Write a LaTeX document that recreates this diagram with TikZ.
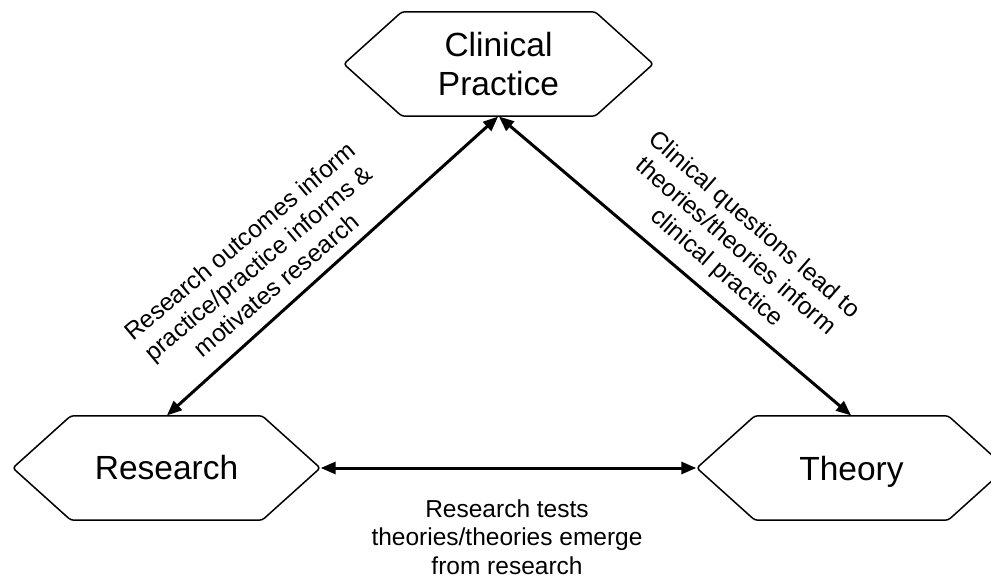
\documentclass[tikz,border=0pt]{standalone}
\usepackage{fontspec}
\setmainfont{Liberation Sans}
\usetikzlibrary{arrows.meta,calc}
\begin{document}
\begin{tikzpicture}[x=1pt,y=1pt,
  hexnode/.style={draw=none, minimum width=#1, minimum height=104pt, inner sep=0pt,
    font=\fontsize{33.5}{39}\selectfont, align=center},
  hexline/.style={draw=black, line width=1.5pt, rounded corners=3pt},
  link/.style={line width=3pt, {Triangle[length=15pt,width=12pt]}-{Triangle[length=15pt,width=12pt]}, shorten <=0.5pt, shorten >=0.5pt},
  lbl/.style={font=\fontsize{24.5}{28.5}\selectfont, align=center, inner sep=0pt}]
\clip (0,0) rectangle (991,579);
\node[hexnode=309pt] (cp) at (498.5,515) {Clinical\\Practice};
\node[hexnode=307pt] (res) at (166.5,111) {Research};
\node[hexnode=309pt, text depth=0pt] (th) at (851.5,111) {Theory};
\foreach \n in {cp,res,th}{
  \draw[hexline] (\n.west) -- ([xshift=58pt]\n.north west) -- ([xshift=-58pt]\n.north east)
    -- (\n.east) -- ([xshift=-58pt]\n.south east) -- ([xshift=58pt]\n.south west) -- cycle;
}
\draw[link] (res.north) -- (cp.south);
\draw[link] (cp.south) -- (th.north);
\draw[link] (res.east) -- (th.west);
\node[lbl, rotate=40] (l1) at (258,316) {Research outcomes inform\\practice/practice informs \&\\motivates research};
\node[lbl, rotate=-41] (l2) at (735,332) {Clinical questions lead to\\theories/theories inform\\clinical practice};
\node[lbl] (l3) at (507,42) {Research tests\\theories/theories emerge\\from research};
\end{tikzpicture}
\end{document}
